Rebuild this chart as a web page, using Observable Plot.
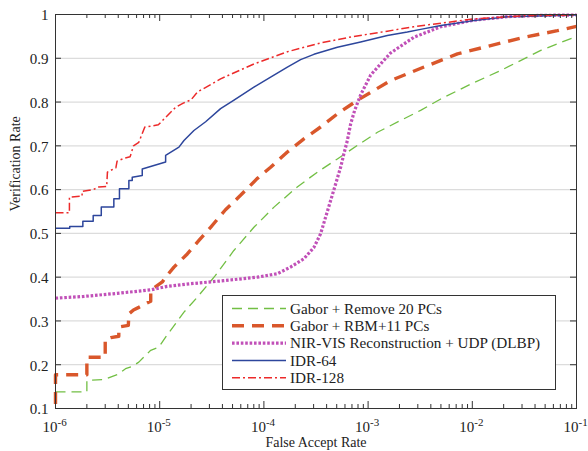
<!DOCTYPE html>
<html><head><meta charset="utf-8">
<script src="https://cdn.jsdelivr.net/npm/d3@7"></script>
<script src="https://cdn.jsdelivr.net/npm/@observablehq/plot@0.6"></script>
<style>
body{margin:0;background:#fff;}
#wrap{position:relative;width:588px;height:451px;font-family:"Liberation Serif","Times New Roman",serif;}
#legend{position:absolute;left:222px;top:295px;}
</style></head><body><div id="wrap"></div>
<script>
// ---- data (False Accept Rate, Verification Rate) ----
const gaborRemovePCs = [
  [1e-6,0.138],[2.0e-6,0.138],[2.0e-6,0.164],[2.9e-6,0.166],[4.05e-6,0.179],[4.7e-6,0.191],
  [5.45e-6,0.196],[6.3e-6,0.206],[7.3e-6,0.221],[8.2e-6,0.233],[9.8e-6,0.240],[1.14e-5,0.263],
  [1.42e-5,0.294],[1.71e-5,0.320],[2.29e-5,0.354],[3.43e-5,0.404],[5.15e-5,0.461],[8.02e-5,0.514],
  [1.25e-4,0.560],[2.09e-4,0.606],[3.26e-4,0.640],[5.07e-4,0.670],[7.88e-4,0.701],[1.23e-3,0.731],
  [2.05e-3,0.758],[3.19e-3,0.781],[4.98e-3,0.807],[9.66e-3,0.841],[1.87e-2,0.872],[4.54e-2,0.918],
  [1e-1,0.950]
];
const gaborRBM = [
  [1e-6,0.11],[1e-6,0.177],[2.0e-6,0.177],[2.0e-6,0.217],[3.0e-6,0.217],[3.0e-6,0.258],
  [3.4e-6,0.262],[4.05e-6,0.265],[4.05e-6,0.286],[5.0e-6,0.29],[5.06e-6,0.316],[5.6e-6,0.325],
  [6.3e-6,0.331],[7.3e-6,0.339],[8.2e-6,0.345],[8.2e-6,0.370],[1.06e-5,0.389],[1.14e-5,0.400],
  [1.37e-5,0.423],[1.84e-5,0.453],[2.38e-5,0.484],[3.08e-5,0.514],[4.28e-5,0.554],[5.97e-5,0.587],
  [8.6e-5,0.625],[1.16e-4,0.651],[1.68e-4,0.686],[2.42e-4,0.716],[3.5e-4,0.743],[5.07e-4,0.773],
  [7.9e-4,0.804],[1.64e-3,0.849],[3.44e-3,0.880],[7.2e-3,0.910],[1.5e-2,0.929],[3.13e-2,0.948],
  [6.56e-2,0.963],[1e-1,0.973]
];
const nirVisUDP = [
  [1e-6,0.352],[1.87e-6,0.356],[3.9e-6,0.363],[8.2e-6,0.371],[1.18e-5,0.379],[1.98e-5,0.385],
  [4.13e-5,0.392],[8.64e-5,0.400],[1.35e-4,0.408],[1.80e-4,0.423],[2.42e-4,0.442],[3.02e-4,0.468],
  [3.5e-4,0.499],[3.91e-4,0.537],[4.37e-4,0.575],[4.88e-4,0.613],[5.45e-4,0.651],[5.86e-4,0.682],
  [6.32e-4,0.712],[6.8e-4,0.750],[7.43e-4,0.781],[8.5e-4,0.817],[1.06e-3,0.862],[1.64e-3,0.912],
  [2.75e-3,0.948],[4.98e-3,0.972],[1.03e-2,0.987],[2.17e-2,0.995],[4.54e-2,0.998],[1e-1,0.999]
];
const idr64 = [
  [1e-6,0.512],[1.37e-6,0.512],[1.37e-6,0.516],[1.83e-6,0.516],[1.83e-6,0.528],[2.3e-6,0.528],
  [2.3e-6,0.541],[2.75e-6,0.541],[2.75e-6,0.560],[3.63e-6,0.560],[3.63e-6,0.579],[4.11e-6,0.579],
  [4.11e-6,0.602],[5.06e-6,0.602],[5.06e-6,0.621],[5.45e-6,0.621],[5.45e-6,0.628],[6.0e-6,0.630],
  [6.8e-6,0.632],[6.8e-6,0.647],[8.8e-6,0.655],[1.14e-5,0.663],[1.14e-5,0.678],[1.53e-5,0.697],
  [1.71e-5,0.712],[2.13e-5,0.735],[2.76e-5,0.755],[3.84e-5,0.785],[5.12e-5,0.804],[8.02e-5,0.834],
  [1.16e-4,0.857],[1.68e-4,0.880],[2.25e-4,0.897],[3.02e-4,0.909],[5.07e-4,0.925],[8.48e-4,0.937],
  [1.53e-3,0.952],[2.38e-3,0.960],[3.19e-3,0.966],[5.0e-3,0.975],[1.03e-2,0.986],[2.17e-2,0.995],
  [1e-1,0.999]
];
const idr128 = [
  [1e-6,0.547],[1.36e-6,0.547],[1.36e-6,0.583],[1.8e-6,0.585],[1.8e-6,0.596],[2.3e-6,0.600],
  [2.6e-6,0.606],[3.1e-6,0.607],[3.15e-6,0.640],[3.8e-6,0.650],[3.9e-6,0.665],[4.6e-6,0.672],
  [5.2e-6,0.675],[5.6e-6,0.700],[6.3e-6,0.708],[7.2e-6,0.743],[8.2e-6,0.745],[9.7e-6,0.748],
  [1.14e-5,0.765],[1.42e-5,0.788],[1.7e-5,0.798],[2.0e-5,0.805],[2.3e-5,0.823],[3.1e-5,0.840],
  [3.84e-5,0.853],[8.02e-5,0.887],[1.68e-4,0.915],[3.5e-4,0.935],[7.31e-4,0.950],[1.53e-3,0.962],
  [2.74e-3,0.972],[1.03e-2,0.990],[3.1e-2,0.997],[1e-1,0.999]
];
const seriesNames = ["Gabor + Remove 20 PCs","Gabor + RBM+11 PCs","NIR-VIS Reconstruction + UDP (DLBP)","IDR-64","IDR-128"];
const seriesData = [gaborRemovePCs, gaborRBM, nirVisUDP, idr64, idr128];
const xTicks = [1e-6,1e-5,1e-4,1e-3,1e-2,1e-1];
const xTickExponents = ["-6","-5","-4","-3","-2","-1"];
const yTicks = [0.1,0.2,0.3,0.4,0.5,0.6,0.7,0.8,0.9,1];
const yTickLabels = ["0.1","0.2","0.3","0.4","0.5","0.6","0.7","0.8","0.9","1"];

// ---- styles ----
const styles = [
  {stroke:"#72bf44", strokeWidth:1.3, strokeDasharray:"10,6"},
  {stroke:"#d9572b", strokeWidth:3.4, strokeDasharray:"12,8"},
  {stroke:"#c150b8", strokeWidth:3.2, strokeDasharray:"2.6,1.8"},
  {stroke:"#2d469c", strokeWidth:1.5, strokeDasharray:null},
  {stroke:"#ec2a2a", strokeWidth:1.5, strokeDasharray:"8,3,2,3"}
];
const FONT = "Liberation Serif";
const W = 588, H = 451, ML = 55, MR = 12, MT = 14, MB = 43;
const PW = W - ML - MR, PH = H - MT - MB;

const minorTicks = [];
for (let e = -6; e < -1; e++) for (let m = 2; m <= 9; m++) minorTicks.push(m * Math.pow(10, e));

const lineMarks = seriesData.map((pts, i) => Plot.line(pts, {
  x: d => d[0], y: d => d[1], curve: "linear",
  stroke: styles[i].stroke, strokeWidth: styles[i].strokeWidth,
  strokeDasharray: styles[i].strokeDasharray, strokeLinecap: "butt", strokeLinejoin: "round"
}));

const chart = Plot.plot({
  width: W, height: H, marginLeft: ML, marginRight: MR, marginTop: MT, marginBottom: MB,
  style: {fontFamily: FONT, background: "#fff", color: "#222"},
  x: {type: "log", domain: [1e-6, 1e-1], axis: null},
  y: {domain: [0.1, 1], axis: null},
  marks: [
    Plot.ruleY(yTicks.slice(1, -1), {y: d => d, stroke: "#dcdcdc", strokeWidth: 1.2}),
    ...lineMarks,
    // inward ticks
    Plot.tickX(xTicks, {x: d => d, insetTop: PH - 7, stroke: "#333"}),
    Plot.tickX(xTicks, {x: d => d, insetBottom: PH - 7, stroke: "#333"}),
    Plot.tickX(minorTicks, {x: d => d, insetTop: PH - 4, stroke: "#333"}),
    Plot.tickX(minorTicks, {x: d => d, insetBottom: PH - 4, stroke: "#333"}),
    Plot.tickY(yTicks, {y: d => d, insetRight: PW - 6, stroke: "#333"}),
    Plot.tickY(yTicks, {y: d => d, insetLeft: PW - 6, stroke: "#333"}),
    Plot.frame({stroke: "#333", strokeWidth: 1}),
    // tick labels
    Plot.text(yTicks, {y: d => d, text: (d, i) => yTickLabels[i], frameAnchor: "left", lineAnchor: "middle", textAnchor: "end", dx: -7, dy: 1, fontSize: 15, fill: "#222"}),
    Plot.text(xTicks, {x: d => d, text: () => "10", frameAnchor: "bottom", lineAnchor: "middle", textAnchor: "end", dx: 2, dy: 19, fontSize: 15, fill: "#222"}),
    Plot.text(xTicks, {x: d => d, text: (d, i) => xTickExponents[i], frameAnchor: "bottom", lineAnchor: "middle", textAnchor: "start", dx: 2, dy: 13.5, fontSize: 11, fill: "#222"}),
    // axis titles
    Plot.text(["Verification Rate"], {frameAnchor: "left", lineAnchor: "middle", dx: -40, rotate: -90, fontSize: 14, fill: "#222"}),
    Plot.text(["False Accept Rate"], {frameAnchor: "bottom", lineAnchor: "middle", dy: 34, fontSize: 14, fill: "#222"})
  ]
});
document.getElementById("wrap").appendChild(chart);

// ---- legend (inside plot, lower right) ----
const LW = 333, LH = 94;
const leg = d3.select("#wrap").append("svg").attr("id", "legend").attr("width", LW + 1).attr("height", LH + 1);
leg.append("rect").attr("x", 0.5).attr("y", 0.5).attr("width", LW).attr("height", LH)
  .attr("fill", "#fff").attr("stroke", "#333").attr("stroke-width", 1);
seriesNames.forEach((name, i) => {
  const y = 13.5 + i * 17.3;
  const s = styles[i];
  leg.append("line").attr("x1", 10).attr("x2", 64).attr("y1", y).attr("y2", y)
    .attr("stroke", s.stroke).attr("stroke-width", s.strokeWidth)
    .attr("stroke-dasharray", s.strokeDasharray);
  leg.append("text").attr("x", 68).attr("y", y).attr("dy", "0.34em")
    .attr("font-family", FONT).attr("font-size", 15.2).attr("fill", "#222").text(name);
});
</script></body></html>
